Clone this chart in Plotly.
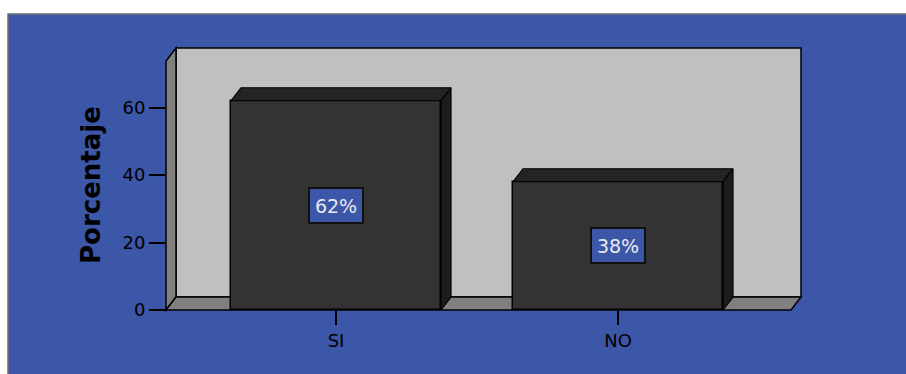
import plotly.graph_objects as go

# Data
categories = ["SI", "NO"]
percentages = [62, 38]
y_ticks = [0, 20, 40, 60]

# Figure geometry (pixels)
W, H = 906, 374
L, R, T, B = 166, 801, 48, 310          # plot area edges
CAT_PX = 282                             # pixels between category centres
FIRST_CENTER = 336                       # pixel x of first category
Y_PX = 3.375                             # pixels per percentage point
DEPTH_X_PX, DEPTH_Y_PX = 10, 13          # 3D depth offset
BAR_W = 210 / CAT_PX

x_range = [(L - FIRST_CENTER) / CAT_PX, (R - FIRST_CENTER) / CAT_PX]
y_range = [0, (B - T) / Y_PX]
DX = DEPTH_X_PX / CAT_PX
DY = DEPTH_Y_PX / Y_PX

BG_BLUE = "#3c56a8"
FRONT = "#333333"
TOP = "#242424"
SIDE = "#1c1c1c"
WALL = "#c0c0c0"
WALL_DARK = "#808080"


def px(x):
    return (x - L) / (R - L)


def py(y):
    return (B - y) / (B - T)


def path(points):
    return "M " + " L ".join(f"{px(a):.5f},{py(b):.5f}" for a, b in points) + " Z"


fig = go.Figure()

xs = list(range(len(categories)))

# Front faces of the bars
fig.add_trace(go.Bar(
    x=xs, y=percentages, width=BAR_W,
    marker=dict(color=FRONT, line=dict(color="black", width=1.5)),
    hoverinfo="skip", showlegend=False,
))

# Top and side faces, built from each bar's value
for i, v in zip(xs, percentages):
    x0, x1 = i - BAR_W / 2, i + BAR_W / 2
    fig.add_trace(go.Scatter(
        x=[x0, x1, x1 + DX, x0 + DX, x0],
        y=[v, v, v + DY, v + DY, v],
        mode="lines", fill="toself", fillcolor=TOP,
        line=dict(color="black", width=1.2),
        hoverinfo="skip", showlegend=False,
    ))
    fig.add_trace(go.Scatter(
        x=[x1, x1, x1 + DX, x1 + DX, x1],
        y=[0, v, v + DY, DY, 0],
        mode="lines", fill="toself", fillcolor=SIDE,
        line=dict(color="black", width=1.2),
        hoverinfo="skip", showlegend=False,
    ))

shapes = [
    # blue chart frame
    dict(type="rect", xref="paper", yref="paper",
         x0=px(8), x1=px(W + 10), y0=py(14), y1=py(H + 10),
         fillcolor=BG_BLUE, line=dict(color="#6e6e6e", width=1.5), layer="below"),
    # back wall
    dict(type="rect", xref="paper", yref="paper",
         x0=px(L + DEPTH_X_PX), x1=px(R), y0=py(T), y1=py(B - DEPTH_Y_PX),
         fillcolor=WALL, line=dict(color="black", width=1.5), layer="below"),
    # left side wall
    dict(type="path", xref="paper", yref="paper",
         path=path([(L, B), (L, T + DEPTH_Y_PX), (L + DEPTH_X_PX, T),
                    (L + DEPTH_X_PX, B - DEPTH_Y_PX)]),
         fillcolor=WALL_DARK, line=dict(color="black", width=1.5), layer="below"),
    # floor
    dict(type="path", xref="paper", yref="paper",
         path=path([(L, B), (L + DEPTH_X_PX, B - DEPTH_Y_PX), (R, B - DEPTH_Y_PX),
                    (R - DEPTH_X_PX, B)]),
         fillcolor=WALL_DARK, line=dict(color="black", width=1.5), layer="below"),
]

annotations = [
    dict(text="Porcentaje", textangle=-90, xref="paper", yref="paper",
         x=px(91), y=py(185), showarrow=False, xanchor="center", yanchor="middle",
         font=dict(family="DejaVu Sans", size=26, color="black", weight="bold")),
]
for i, v in zip(xs, percentages):
    annotations.append(dict(
        text=f"{v}%", x=i, y=v / 2, xref="x", yref="y", showarrow=False,
        width=48, height=29, borderpad=2, borderwidth=2,
        bgcolor=BG_BLUE, bordercolor="#111111",
        font=dict(family="DejaVu Sans", size=19, color="#e8e8f0"),
    ))

fig.update_layout(
    width=W, height=H,
    margin=dict(l=L, r=W - R, t=T, b=H - B, pad=0),
    paper_bgcolor="white", plot_bgcolor="rgba(0,0,0,0)",
    shapes=shapes, annotations=annotations,
    showlegend=False, bargap=0,
    xaxis=dict(range=x_range, tickvals=xs, ticktext=categories,
               ticks="outside", ticklen=14, tickwidth=1.5, tickcolor="black",
               showline=False, showgrid=False, zeroline=False,
               tickfont=dict(family="DejaVu Sans", size=18, color="black"),
               fixedrange=True),
    yaxis=dict(range=y_range, tickvals=y_ticks,
               ticks="outside", ticklen=16, tickwidth=1.5, tickcolor="black",
               showline=False, showgrid=False, zeroline=False,
               tickfont=dict(family="DejaVu Sans", size=18, color="black"),
               fixedrange=True),
)

fig.write_html("out.html")
